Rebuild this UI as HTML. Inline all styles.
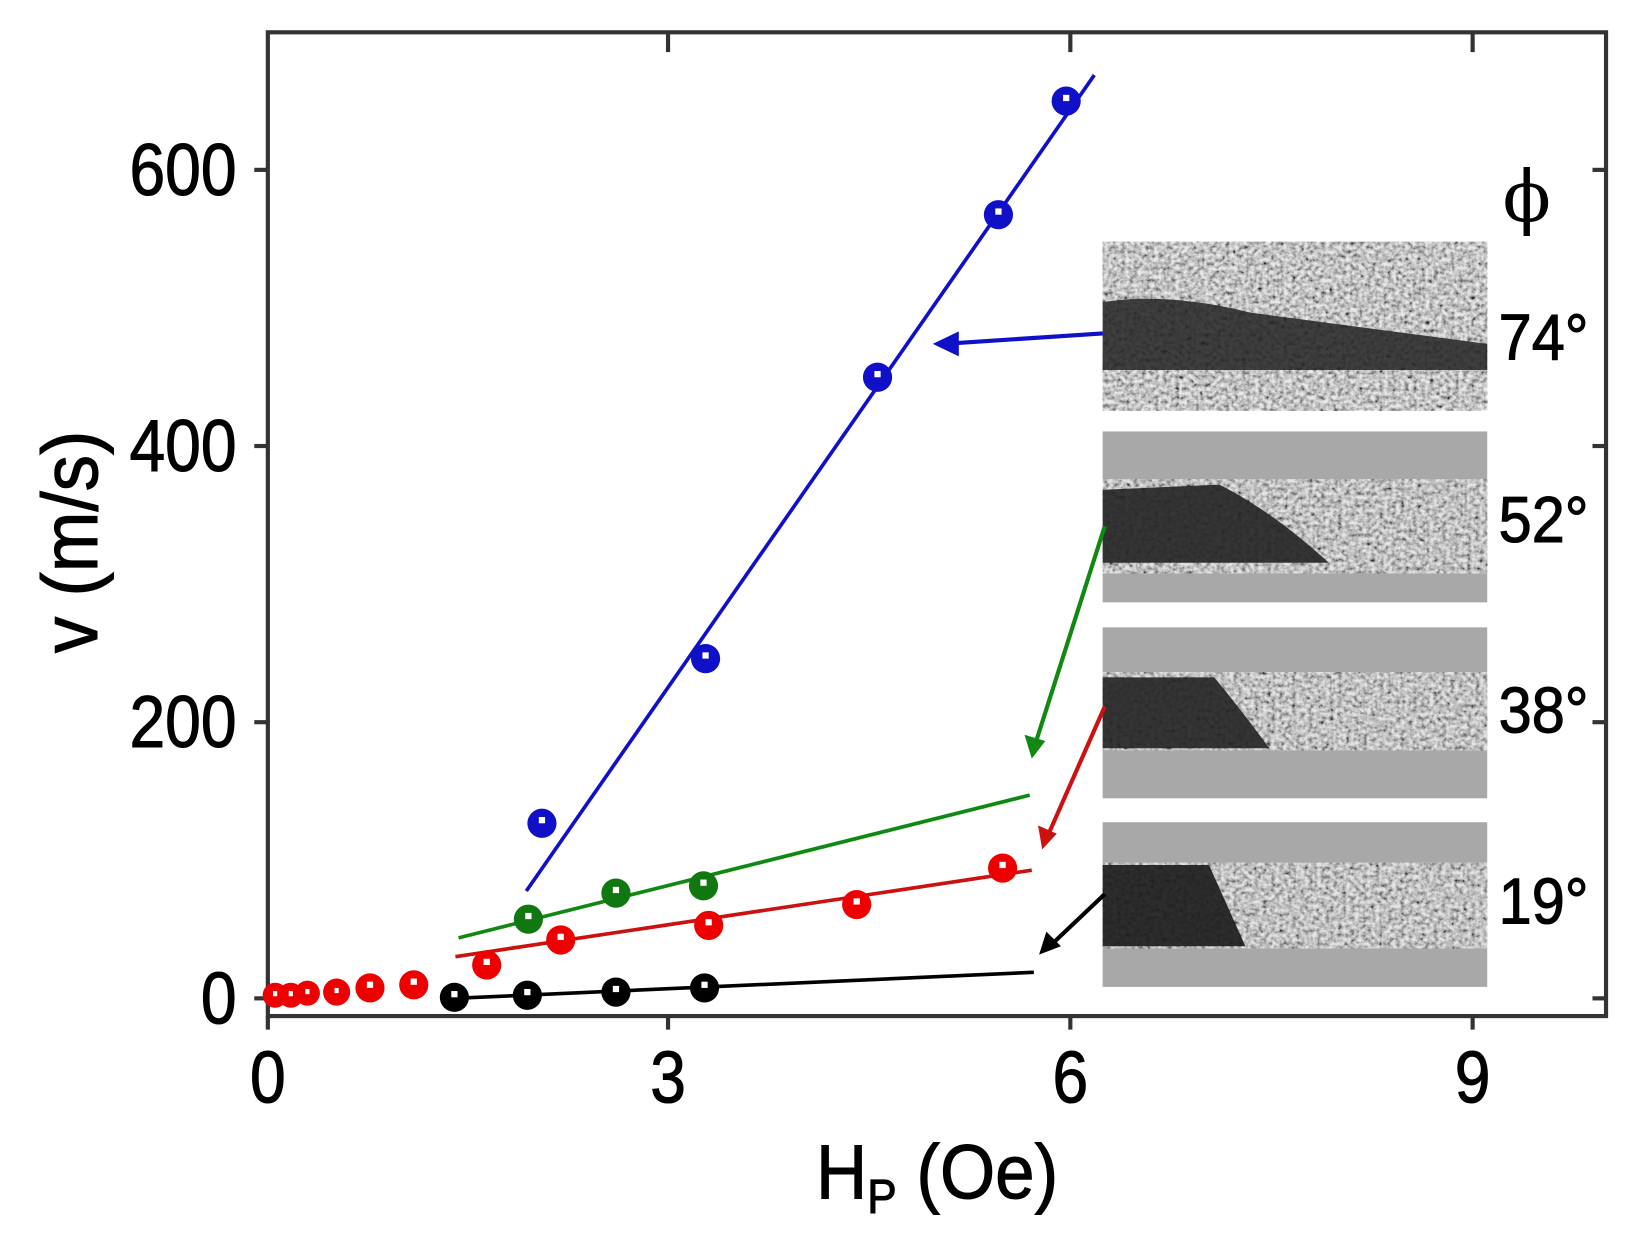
<!DOCTYPE html>
<html><head><style>html,body{margin:0;padding:0;background:#fff}svg{display:block}</style></head>
<body>
<svg width="1630" height="1237" viewBox="0 0 1564 1187" preserveAspectRatio="none" xmlns="http://www.w3.org/2000/svg" font-family="Liberation Sans, sans-serif">
<defs>
<filter id="n" x="0" y="0" width="100%" height="100%">
<feTurbulence type="fractalNoise" baseFrequency="0.25" numOctaves="2" seed="3"/>
<feColorMatrix type="saturate" values="0"/>
<feComponentTransfer><feFuncR type="linear" slope="2.4" intercept="-0.6"/><feFuncG type="linear" slope="2.4" intercept="-0.6"/><feFuncB type="linear" slope="2.4" intercept="-0.6"/><feFuncA type="linear" slope="0" intercept="1"/></feComponentTransfer>
</filter>
</defs>
<rect width="1564" height="1187" fill="#fff"/>
<rect x="257" y="31" width="1284" height="944" fill="none" stroke="#333" stroke-width="4"/>
<g stroke="#333" stroke-width="4">
<line x1="257" y1="958" x2="244" y2="958"/><line x1="257" y1="693" x2="244" y2="693"/><line x1="257" y1="428" x2="244" y2="428"/><line x1="257" y1="163" x2="244" y2="163"/>
<line x1="1541" y1="958" x2="1528" y2="958"/><line x1="1541" y1="693" x2="1528" y2="693"/><line x1="1541" y1="428" x2="1528" y2="428"/><line x1="1541" y1="163" x2="1528" y2="163"/>
<line x1="257" y1="975" x2="257" y2="988"/><line x1="641" y1="975" x2="641" y2="988"/><line x1="1027" y1="975" x2="1027" y2="988"/><line x1="1413" y1="975" x2="1413" y2="988"/>
<line x1="641" y1="31" x2="641" y2="50"/><line x1="1027" y1="31" x2="1027" y2="50"/><line x1="1413" y1="31" x2="1413" y2="50"/>
</g>
<g font-size="70" fill="#000" stroke="#000" stroke-width="1" text-anchor="end">
<text transform="translate(227,187) scale(0.88,1)">600</text>
<text transform="translate(227,452) scale(0.88,1)">400</text>
<text transform="translate(227,717) scale(0.88,1)">200</text>
<text transform="translate(227,982) scale(0.88,1)">0</text>
</g>
<g font-size="70" fill="#000" stroke="#000" stroke-width="1" text-anchor="middle">
<text transform="translate(257,1058) scale(0.88,1)">0</text>
<text transform="translate(641,1058) scale(0.88,1)">3</text>
<text transform="translate(1027,1058) scale(0.88,1)">6</text>
<text transform="translate(1413,1058) scale(0.88,1)">9</text>
</g>
<text transform="translate(783,1150) scale(0.92,1)" font-size="74" fill="#000" stroke="#000" stroke-width="1">H<tspan font-size="46" dy="14">P</tspan><tspan dy="-14"> (Oe)</tspan></text>
<text transform="translate(93,520) rotate(-90) scale(0.92,1)" font-size="76" fill="#000" stroke="#000" stroke-width="1" text-anchor="middle">v (m/s)</text>
<g>
<rect x="1058" y="232" width="369" height="162" fill="#aaa"/><rect x="1058" y="232" width="369" height="162" filter="url(#n)" opacity="0.75"/>
<path d="M1058,290 Q1120,280 1200,300 L1427,330 L1427,355 L1058,355 z" fill="#222" opacity="0.85"/>
<rect x="1058" y="414" width="369" height="164" fill="#a8a8a8"/><rect x="1058" y="460" width="369" height="90" filter="url(#n)" opacity="0.7"/>
<path d="M1058,470 L1170,465 Q1220,490 1275,540 L1058,540 z" fill="#222" opacity="0.9"/>
<rect x="1058" y="602" width="369" height="164" fill="#a8a8a8"/><rect x="1058" y="645" width="369" height="75" filter="url(#n)" opacity="0.7"/>
<path d="M1058,650 L1165,650 Q1190,680 1218,718 L1058,718 z" fill="#222" opacity="0.9"/>
<rect x="1058" y="789" width="369" height="158" fill="#a8a8a8"/><rect x="1058" y="828" width="369" height="82" filter="url(#n)" opacity="0.7"/>
<path d="M1058,830 L1160,830 L1195,908 L1058,908 z" fill="#1a1a1a" opacity="0.9"/>
</g>
<g font-size="62" fill="#000" stroke="#000" stroke-width="1">
<text transform="translate(1438,345) scale(0.92,1)">74°</text><text transform="translate(1438,520) scale(0.92,1)">52°</text><text transform="translate(1438,703) scale(0.92,1)">38°</text><text transform="translate(1438,886) scale(0.92,1)">19°</text>
</g>
<text x="1465" y="212" font-size="68" text-anchor="middle" font-family="DejaVu Serif, serif">ϕ</text>
<g stroke-width="3.5" fill="none">
<line x1="505" y1="855" x2="1050" y2="72" stroke="#1010c8"/>
<line x1="440" y1="900" x2="988" y2="763" stroke="#118811"/>
<line x1="437" y1="918" x2="990" y2="835" stroke="#cc1111"/>
<line x1="436" y1="958" x2="992" y2="933" stroke="#000"/>
</g>
<g stroke-width="4">
<line x1="1058" y1="320" x2="905" y2="330" stroke="#1010c8"/><path d="M895,330 L920,318 L920,342 z" fill="#1010c8"/>
<line x1="1060" y1="505" x2="993" y2="715" stroke="#118811"/><path d="M990,728 L983,705 L1003,711 z" fill="#118811"/>
<line x1="1060" y1="678" x2="1004" y2="805" stroke="#cc1111"/><path d="M1000,815 L996,792 L1014,800 z" fill="#cc1111"/>
<line x1="1060" y1="858" x2="1005" y2="910" stroke="#000"/><path d="M997,916 L1004,894 L1018,908 z" fill="#000"/>
</g>
<g fill="#1010c8">
<circle cx="520" cy="790" r="14"/><circle cx="677" cy="632" r="14"/><circle cx="842" cy="362" r="14"/><circle cx="958" cy="206" r="14"/><circle cx="1023" cy="97" r="14"/>
</g>
<g fill="#117711">
<circle cx="507" cy="882" r="14"/><circle cx="591" cy="857" r="14"/><circle cx="675" cy="850" r="14"/>
</g>
<g fill="#e00">
<circle cx="264" cy="955" r="12"/><circle cx="279" cy="955" r="12"/><circle cx="295" cy="953" r="12"/><circle cx="323" cy="952" r="13"/><circle cx="355" cy="948" r="14"/><circle cx="397" cy="945" r="14"/><circle cx="467" cy="926" r="14"/><circle cx="538" cy="902" r="14"/><circle cx="680" cy="888" r="14"/><circle cx="822" cy="868" r="14"/><circle cx="962" cy="833" r="14"/>
</g>
<g fill="#000">
<circle cx="436" cy="957" r="14"/><circle cx="506" cy="955" r="14"/><circle cx="591" cy="952" r="14"/><circle cx="676" cy="948" r="14"/>
</g>
<g fill="#fff">
<rect x="517" y="784" width="6" height="6"/><rect x="674" y="626" width="6" height="6"/><rect x="839" y="356" width="6" height="6"/><rect x="955" y="200" width="6" height="6"/><rect x="1020" y="91" width="6" height="6"/>
<rect x="504" y="876" width="6" height="6"/><rect x="588" y="851" width="6" height="6"/><rect x="672" y="844" width="6" height="6"/>
<rect x="262" y="951" width="4" height="5"/><rect x="277" y="951" width="4" height="5"/><rect x="293" y="949" width="4" height="5"/><rect x="321" y="948" width="4" height="5"/><rect x="352" y="942" width="6" height="6"/><rect x="394" y="939" width="6" height="6"/><rect x="464" y="920" width="6" height="6"/><rect x="535" y="896" width="6" height="6"/><rect x="677" y="882" width="6" height="6"/><rect x="819" y="862" width="6" height="6"/><rect x="959" y="827" width="6" height="6"/>
<rect x="433" y="951" width="6" height="6"/><rect x="503" y="949" width="6" height="6"/><rect x="588" y="946" width="6" height="6"/><rect x="673" y="942" width="6" height="6"/>
</g>
</svg>
</body></html>
